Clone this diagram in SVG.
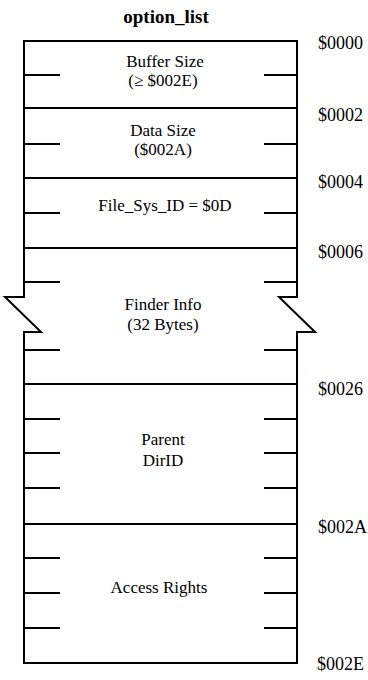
<svg xmlns="http://www.w3.org/2000/svg" width="368" height="680" viewBox="0 0 368 680">
<style>
.ln{stroke:#000;stroke-width:2;fill:none;stroke-linecap:square}
.tk{stroke:#000;stroke-width:2;fill:none}
.t{font-family:"Liberation Serif","Times New Roman",serif;font-size:17px;fill:#000;text-anchor:middle}
.off{font-family:"Liberation Serif","Times New Roman",serif;font-size:18px;fill:#000}
.title{font-family:"Liberation Serif","Times New Roman",serif;font-size:19px;font-weight:bold;fill:#000;text-anchor:middle}
</style>
<rect width="368" height="680" fill="#fff"/>
<text class="title" x="166" y="23">option_list</text>

<g id="buffer_size">
<path class="ln" d="M24,41 H297 M24,41 V108 M297,41 V108"/>
<path class="tk" d="M24,75 H60 M264,75 H297"/>
<text class="t" x="165" y="67">Buffer Size</text>
<text class="t" x="163" y="86">(≥ $002E)</text>
</g>

<g id="data_size">
<path class="ln" d="M24,108 H297 M24,108 V178 M297,108 V178"/>
<path class="tk" d="M24,144 H60 M264,144 H297"/>
<text class="t" x="163" y="136">Data Size</text>
<text class="t" x="163" y="155">($002A)</text>
</g>

<g id="file_sys_id">
<path class="ln" d="M24,178 H297 M24,178 V248 M297,178 V248"/>
<path class="tk" d="M24,213 H60 M264,213 H297"/>
<text class="t" x="165" y="211">File_Sys_ID = $0D</text>
</g>

<g id="finder_info">
<path class="ln" d="M24,248 H297"/>
<path class="ln" d="M24,248 V297 H5 L41,332 H24 V384"/>
<path class="ln" d="M297,248 V297 H279 L315,332 H297 V384"/>
<path class="tk" d="M24,282 H60 M264,282 H297 M24,350 H60 M264,350 H297"/>
<text class="t" x="163" y="310">Finder Info</text>
<text class="t" x="163" y="330">(32 Bytes)</text>
</g>

<g id="parent_dirid">
<path class="ln" d="M24,384 H297 M24,384 V524 M297,384 V524"/>
<path class="tk" d="M24,419 H60 M264,419 H297 M24,453 H60 M264,453 H297 M24,488 H60 M264,488 H297"/>
<text class="t" x="163" y="445">Parent</text>
<text class="t" x="163" y="466">DirID</text>
</g>

<g id="access_rights">
<path class="ln" d="M24,524 H297 M24,524 V663 M297,524 V663 M24,663 H297"/>
<path class="tk" d="M24,558 H60 M264,558 H297 M24,593 H60 M264,593 H297 M24,628 H60 M264,628 H297"/>
<text class="t" x="159" y="593">Access Rights</text>
</g>

<g id="connectors"></g>

<g id="offsets">
<text class="off" x="318" y="49">$0000</text>
<text class="off" x="318" y="121">$0002</text>
<text class="off" x="318" y="188">$0004</text>
<text class="off" x="318" y="258">$0006</text>
<text class="off" x="318" y="395">$0026</text>
<text class="off" x="318" y="533">$002A</text>
<text class="off" x="317" y="670">$002E</text>
</g>
</svg>
